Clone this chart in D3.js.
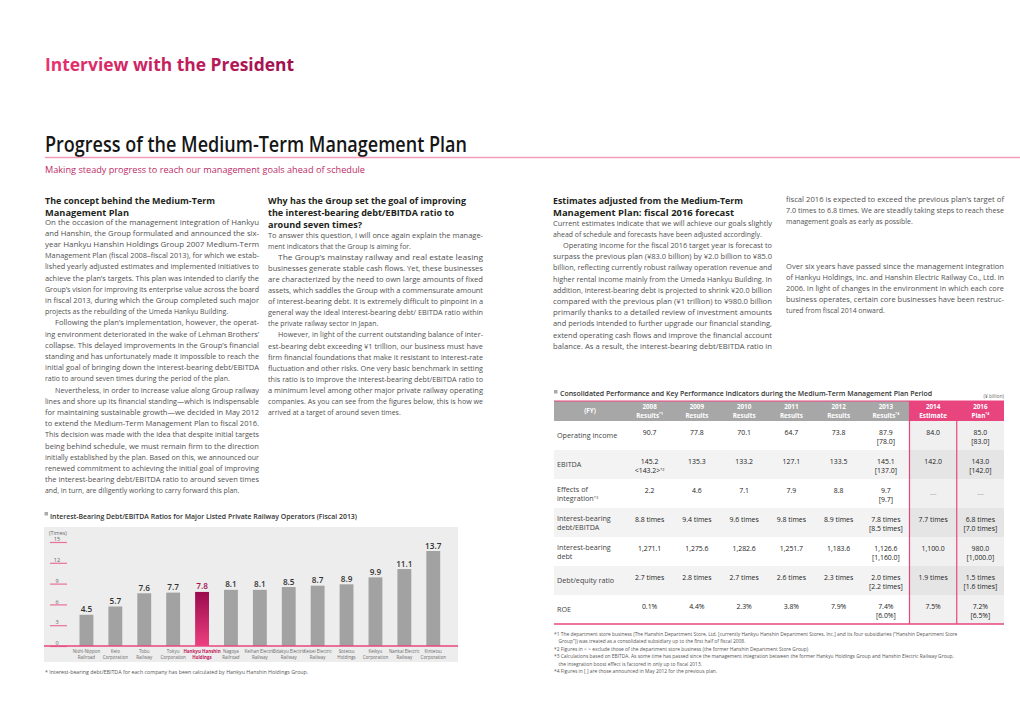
<!DOCTYPE html>
<html><head><meta charset="utf-8">
<script src="https://cdn.jsdelivr.net/npm/d3@7"></script>
<style>html,body{margin:0;padding:0;background:#fff;}svg{display:block;font-family:"Open Sans","Noto Sans",sans-serif;}</style>
</head><body>
<svg id="page" width="1020" height="721"></svg>
<script>
// ---------------- DATA ----------------
const companies = ["Nishi-Nippon Railroad","Keio Corporation","Tobu Railway","Tokyu Corporation","Hankyu Hanshin Holdings","Nagoya Railroad","Keihan Electric Railway","Odakyu Electric Railway","Keisei Electric Railway","Sotetsu Holdings","Keikyu Corporation","Nankai Electric Railway","Kintetsu Corporation"];
const companyLines = [["Nishi-Nippon","Railroad"],["Keio","Corporation"],["Tobu","Railway"],["Tokyu","Corporation"],["Hankyu Hanshin","Holdings"],["Nagoya","Railroad"],["Keihan Electric","Railway"],["Odakyu Electric","Railway"],["Keisei Electric","Railway"],["Sotetsu","Holdings"],["Keikyu","Corporation"],["Nankai Electric","Railway"],["Kintetsu","Corporation"]];
const ratios = [4.5,5.7,7.6,7.7,7.8,8.1,8.1,8.5,8.7,8.9,9.9,11.1,13.7];
const highlightCompany = "Hankyu Hanshin Holdings";
const yTicks = [0,3,6,9,12,15];

const fyYears = ["2008","2009","2010","2011","2012","2013","2014","2016"];
const fyKinds = ["Results","Results","Results","Results","Results","Results","Estimate","Plan"];
const fyNotes = ["*1","","","","","*4","","*4"];
const rowLabels = [["Operating income"],["EBITDA"],["Effects of","integration|*3"],["Interest-bearing","debt/EBITDA"],["Interest-bearing","debt"],["Debt/equity ratio"],["ROE"]];
const operatingIncome = [["90.7"],["77.8"],["70.1"],["64.7"],["73.8"],["87.9","[78.0]"],["84.0"],["85.0","[83.0]"]];
const ebitda = [["145.2","<143.2>|*2"],["135.3"],["133.2"],["127.1"],["133.5"],["145.1","[137.0]"],["142.0"],["143.0","[142.0]"]];
const integrationEffects = [["2.2"],["4.6"],["7.1"],["7.9"],["8.8"],["9.7","[9.7]"],["—"],["—"]];
const debtToEbitda = [["8.8 times"],["9.4 times"],["9.6 times"],["9.8 times"],["8.9 times"],["7.8 times","[8.5 times]"],["7.7 times"],["6.8 times","[7.0 times]"]];
const interestBearingDebt = [["1,271.1"],["1,275.6"],["1,282.6"],["1,251.7"],["1,183.6"],["1,126.6","[1,160.0]"],["1,100.0"],["980.0","[1,000.0]"]];
const debtEquity = [["2.7 times"],["2.8 times"],["2.7 times"],["2.6 times"],["2.3 times"],["2.0 times","[2.2 times]"],["1.9 times"],["1.5 times","[1.6 times]"]];
const roe = [["0.1%"],["4.4%"],["2.3%"],["3.8%"],["7.9%"],["7.4%","[6.0%]"],["7.5%"],["7.2%","[6.5%]"]];
const tableRows = [operatingIncome, ebitda, integrationEffects, debtToEbitda, interestBearingDebt, debtEquity, roe];

const tableNotes = [
 ["*1 The department store business (The Hanshin Department Store, Ltd. [currently Hankyu Hanshin Department Stores, Inc.] and its four subsidiaries (\u201cHanshin Department Store","Group\u201d)) was treated as a consolidated subsidiary up to the first half of fiscal 2008."],
 ["*2 Figures in < > exclude those of the department store business (the former Hanshin Department Store Group)"],
 ["*3 Calculations based on EBITDA. As some time has passed since the management integration between the former Hankyu Holdings Group and Hanshin Electric Railway Group,","the integration boost effect is factored in only up to fiscal 2013."],
 ["*4 Figures in [ ] are those announced in May 2012 for the previous plan."]
];

const col1Heading = ["The concept behind the Medium-Term","Management Plan"];
const col1Paras = [
 {indent:false, lines:["On the occasion of the management integration of Hankyu","and Hanshin, the Group formulated and announced the six-","year Hankyu Hanshin Holdings Group 2007 Medium-Term","Management Plan (fiscal 2008\u2013fiscal 2013), for which we estab-","lished yearly adjusted estimates and implemented initiatives to","achieve the plan\u2019s targets. This plan was intended to clarify the","Group\u2019s vision for improving its enterprise value across the board","in fiscal 2013, during which the Group completed such major","projects as the rebuilding of the Umeda Hankyu Building."]},
 {indent:true, lines:["Following the plan\u2019s implementation, however, the operat-","ing environment deteriorated in the wake of Lehman Brothers\u2019","collapse. This delayed improvements in the Group\u2019s financial","standing and has unfortunately made it impossible to reach the","initial goal of bringing down the interest-bearing debt/EBITDA","ratio to around seven times during the period of the plan."]},
 {indent:true, lines:["Nevertheless, in order to increase value along Group railway","lines and shore up its financial standing\u2014which is indispensable","for maintaining sustainable growth\u2014we decided in May 2012","to extend the Medium-Term Management Plan to fiscal 2016.","This decision was made with the idea that despite initial targets","being behind schedule, we must remain firm to the direction","initially established by the plan. Based on this, we announced our","renewed commitment to achieving the initial goal of improving","the interest-bearing debt/EBITDA ratio to around seven times","and, in turn, are diligently working to carry forward this plan."]}
];
const col2Heading = ["Why has the Group set the goal of improving","the interest-bearing debt/EBITDA ratio to","around seven times?"];
const col2Paras = [
 {indent:false, lines:["To answer this question, I will once again explain the manage-","ment indicators that the Group is aiming for."]},
 {indent:true, lines:["The Group\u2019s mainstay railway and real estate leasing","businesses generate stable cash flows. Yet, these businesses","are characterized by the need to own large amounts of fixed","assets, which saddles the Group with a commensurate amount","of interest-bearing debt. It is extremely difficult to pinpoint in a","general way the ideal interest-bearing debt/ EBITDA ratio within","the private railway sector in Japan."]},
 {indent:true, lines:["However, in light of the current outstanding balance of inter-","est-bearing debt exceeding \u00a51 trillion, our business must have","firm financial foundations that make it resistant to interest-rate","fluctuation and other risks. One very basic benchmark in setting","this ratio is to improve the interest-bearing debt/EBITDA ratio to","a minimum level among other major private railway operating","companies. As you can see from the figures below, this is how we","arrived at a target of around seven times."]}
];
const col3Heading = ["Estimates adjusted from the Medium-Term","Management Plan: fiscal 2016 forecast"];
const col3Paras = [
 {indent:false, lines:["Current estimates indicate that we will achieve our goals slightly","ahead of schedule and forecasts have been adjusted accordingly."]},
 {indent:true, cont:true, lines:["Operating income for the fiscal 2016 target year is forecast to","surpass the previous plan (\u00a583.0 billion) by \u00a52.0 billion to \u00a585.0","billion, reflecting currently robust railway operation revenue and","higher rental income mainly from the Umeda Hankyu Building. In","addition, interest-bearing debt is projected to shrink \u00a520.0 billion","compared with the previous plan (\u00a51 trillion) to \u00a5980.0 billion","primarily thanks to a detailed review of investment amounts","and periods intended to further upgrade our financial standing,","extend operating cash flows and improve the financial account","balance. As a result, the interest-bearing debt/EBITDA ratio in"]}
];
const col4ParasA = [
 {indent:false, lines:["fiscal 2016 is expected to exceed the previous plan\u2019s target of","7.0 times to 6.8 times. We are steadily taking steps to reach these","management goals as early as possible."]}
];
const col4ParasB = [
 {indent:false, lines:["Over six years have passed since the management integration","of Hankyu Holdings, Inc. and Hanshin Electric Railway Co., Ltd. in","2006. In light of changes in the environment in which each core","business operates, certain core businesses have been restruc-","tured from fiscal 2014 onward."]}
];

// ---------------- DRAW ----------------
const svg = d3.select("#page");
const PINK = "#e8457f";
const defs = svg.append("defs");
const tg = defs.append("linearGradient").attr("id","titleGrad").attr("x1","0").attr("x2","1").attr("y1","0").attr("y2","0");
tg.append("stop").attr("offset","0").attr("stop-color","#e8336f");
tg.append("stop").attr("offset","1").attr("stop-color","#9e0f4c");
const bg = defs.append("linearGradient").attr("id","barGrad").attr("x1","0").attr("x2","0").attr("y1","0").attr("y2","1");
bg.append("stop").attr("offset","0").attr("stop-color","#9a0a4d");
bg.append("stop").attr("offset","1").attr("stop-color","#ec4080");

// page header
svg.append("text").attr("x",45).attr("y",71).attr("font-size",18.5).attr("font-weight","bold")
  .attr("fill","url(#titleGrad)").attr("textLength",249).attr("lengthAdjust","spacingAndGlyphs").text("Interview with the President");
svg.append("text").attr("x",45).attr("y",152).attr("font-size",21).attr("font-weight",600).attr("fill","#161616")
  .attr("textLength",422).attr("lengthAdjust","spacingAndGlyphs").text("Progress of the Medium-Term Management Plan");
svg.append("line").attr("x1",45).attr("x2",1020).attr("y1",157.5).attr("y2",157.5).attr("stroke","#f29bbb").attr("stroke-width",1.5);
svg.append("text").attr("x",45).attr("y",173).attr("font-size",9.3).attr("fill","#bd2b66")
  .attr("textLength",320).attr("lengthAdjust","spacingAndGlyphs").text("Making steady progress to reach our management goals ahead of schedule");

function heading(lines, x, y0, widths){
  lines.forEach((l,i)=>{
    const t = svg.append("text").attr("x",x).attr("y",y0+i*12).attr("font-size",9.6).attr("font-weight","bold").attr("fill","#231f20").text(l);
    if(widths && widths[i]) t.attr("textLength",widths[i]).attr("lengthAdjust","spacingAndGlyphs");
  });
}
function body(paras, x, width, y0, step){
  let y = y0;
  paras.forEach(p=>{
    p.lines.forEach((l,i)=>{
      const ind = (i===0 && p.indent) ? 10 : 0;
      const last = (i===p.lines.length-1) && !p.cont;
      const t = svg.append("text").attr("x",x+ind).attr("y",y).attr("font-size",6.9).attr("fill","#505050").text(l);
      if(!last) t.attr("textLength",width-ind).attr("lengthAdjust","spacingAndGlyphs");
      y += step;
    });
  });
}
heading(col1Heading,45,203.5,[170,84]);
body(col1Paras,45,214,224.5,11.2);
heading(col2Heading,268,203.5,[198,186,94]);
body(col2Paras,268,215,237.5,11.1);
heading(col3Heading,553,203.5,[190,181]);
body(col3Paras,553,219,225.5,11.2);
body(col4ParasA,786,218,201.5,11);
body(col4ParasB,786,218,268.5,11);

// ---------------- BAR CHART ----------------
const chart = svg.append("g");
chart.append("rect").attr("x",44.5).attr("y",512).attr("width",3.5).attr("height",3.5).attr("fill","#aaa");
chart.append("text").attr("x",50).attr("y",518.5).attr("font-size",7.8).attr("font-weight",600).attr("fill","#333")
  .attr("textLength",307).attr("lengthAdjust","spacingAndGlyphs").text("Interest-Bearing Debt/EBITDA Ratios for Major Listed Private Railway Operators (Fiscal 2013)");
chart.append("rect").attr("x",44).attr("y",527).attr("width",414).attr("height",135).attr("fill","#ededed");
const y = d3.scaleLinear().domain([0,15]).range([646,542]);
const x = d3.scaleBand().domain(companies).range([72,447.7]).paddingInner(0.52).paddingOuter(0.26);
chart.append("text").attr("x",49).attr("y",535).attr("font-size",5.3).attr("fill","#666").text("(Times)");
const yAxis = chart.append("g").attr("transform","translate(50,0)")
  .call(d3.axisRight(y).tickValues(yTicks).tickSize(17).tickFormat(d3.format("d")));
yAxis.select(".domain").remove();
yAxis.selectAll(".tick line").attr("stroke","#ea6f9c").attr("stroke-width",1.2);
yAxis.selectAll(".tick text").attr("x",7).attr("dy","-0.25em").attr("text-anchor","middle")
  .attr("font-size",5.6).attr("fill","#666").attr("font-family","'Open Sans',sans-serif");
chart.selectAll("rect.bar").data(companies).join("rect").attr("class","bar")
  .attr("x",d=>x(d)).attr("width",x.bandwidth())
  .attr("y",(d,i)=>y(ratios[i])).attr("height",(d,i)=>y(0)-y(ratios[i]))
  .attr("fill",d=>d===highlightCompany?"url(#barGrad)":"#a2a2a2");
chart.append("line").attr("x1",44).attr("x2",458).attr("y1",y(0)).attr("y2",y(0)).attr("stroke",PINK).attr("stroke-width",1.5);
chart.selectAll("text.val").data(companies).join("text").attr("class","val")
  .attr("x",d=>x(d)+x.bandwidth()/2).attr("y",(d,i)=>y(ratios[i])-2.5).attr("text-anchor","middle")
  .attr("font-size",8.2).attr("font-weight",600).attr("fill",d=>d===highlightCompany?"#a3124f":"#333")
  .text((d,i)=>d3.format(".1f")(ratios[i]));
companies.forEach((c,i)=>{
  const hl = c===highlightCompany;
  companyLines[i].forEach((l,j)=>{
    chart.append("text").attr("x",x(c)+x.bandwidth()/2).attr("y",652.5+j*6.3).attr("text-anchor","middle")
      .attr("font-size",4.5).attr("font-weight",hl?"bold":"normal").attr("fill",hl?"#c2185b":"#6a6a6a").text(l);
  });
});
svg.append("text").attr("x",45).attr("y",674).attr("font-size",5.3).attr("fill","#555")
  .text("* Interest-bearing debt/EBITDA for each company has been calculated by Hankyu Hanshin Holdings Group.");

// ---------------- TABLE ----------------
const tbl = svg.append("g");
const tL = 554, tR = 1004, labelW = 72;
const colX = d3.scaleBand().domain(fyYears).range([tL+labelW, tR]);
const rowY = d3.scaleBand().domain(d3.range(tableRows.length)).range([421,624]);
const pinkStart = colX("2014");
tbl.append("rect").attr("x",tL).attr("y",390).attr("width",3.5).attr("height",3.5).attr("fill","#aaa");
tbl.append("text").attr("x",560).attr("y",396).attr("font-size",7.5).attr("font-weight",600).attr("fill","#333")
  .attr("textLength",372).attr("lengthAdjust","spacingAndGlyphs").text("Consolidated Performance and Key Performance Indicators during the Medium-Term Management Plan Period");
tbl.append("text").attr("x",tR).attr("y",397.5).attr("text-anchor","end").attr("font-size",4.8).attr("fill","#666").text("(\u00a5 billion)");
// header
tbl.append("rect").attr("x",tL).attr("y",401).attr("width",pinkStart-tL).attr("height",20).attr("fill","#a7a7a7");
tbl.append("rect").attr("x",pinkStart).attr("y",401).attr("width",tR-pinkStart).attr("height",20).attr("fill",PINK);
tbl.append("line").attr("x1",tL).attr("x2",tR).attr("y1",401).attr("y2",401).attr("stroke",PINK).attr("stroke-width",1);
tbl.append("text").attr("x",tL+labelW/2).attr("y",413).attr("text-anchor","middle").attr("font-size",6.3).attr("font-weight","bold").attr("fill","#fff").text("(FY)");
fyYears.forEach((yr,i)=>{
  const cx = colX(yr)+colX.bandwidth()/2;
  tbl.append("text").attr("x",cx).attr("y",409).attr("text-anchor","middle").attr("font-size",6.3).attr("font-weight","bold").attr("fill","#fff").text(yr);
  const t = tbl.append("text").attr("x",cx).attr("y",417.5).attr("text-anchor","middle").attr("font-size",6.3).attr("font-weight","bold").attr("fill","#fff");
  t.append("tspan").text(fyKinds[i]);
  if(fyNotes[i]) t.append("tspan").attr("font-size",3.6).attr("dy",-2.2).text(fyNotes[i]);
});
// rows
function richText(sel, str, size){
  const parts = str.split("|");
  sel.append("tspan").text(parts[0]);
  if(parts[1]) sel.append("tspan").attr("font-size",size*0.55).attr("dy",-2.5).text(parts[1]);
}
tableRows.forEach((row,r)=>{
  const top = rowY(r), h = rowY.bandwidth();
  tbl.append("rect").attr("x",tL).attr("y",top).attr("width",pinkStart-tL).attr("height",h).attr("fill",r%2?"#f3f3f3":"#ffffff");
  tbl.append("rect").attr("x",pinkStart).attr("y",top).attr("width",tR-pinkStart).attr("height",h).attr("fill",r%2?"#e5e5e5":"#f0f0f0");
  const lab = rowLabels[r];
  lab.forEach((l,j)=>{
    const yy = lab.length===1 ? top+17 : top+12.5+j*9.5;
    const t = tbl.append("text").attr("x",tL+3).attr("y",yy).attr("font-size",7.2).attr("fill","#444");
    richText(t,l,7.2);
  });
  row.forEach((cell,c)=>{
    const cx = colX(fyYears[c])+colX.bandwidth()/2;
    cell.forEach((v,j)=>{
      const isDash = v==="—";
      const t = tbl.append("text").attr("x",cx).attr("y",isDash?top+17:top+13.5+j*9.5).attr("text-anchor","middle")
        .attr("font-size",6.9).attr("fill",isDash?"#b0b0b0":"#222");
      richText(t,v,6.9);
    });
  });
});
tbl.append("line").attr("x1",pinkStart).attr("x2",pinkStart).attr("y1",401).attr("y2",624).attr("stroke",PINK).attr("stroke-width",1.2);
tbl.append("line").attr("x1",colX("2016")).attr("x2",colX("2016")).attr("y1",421).attr("y2",624).attr("stroke",PINK).attr("stroke-width",1.2);
tbl.append("line").attr("x1",tL).attr("x2",tR).attr("y1",624).attr("y2",624).attr("stroke",PINK).attr("stroke-width",1.5);
// notes
let ny = 635.5;
tableNotes.forEach(n=>{
  n.forEach((l,j)=>{
    tbl.append("text").attr("x",tL+(j?4.5:0)).attr("y",ny).attr("font-size",4.9).attr("fill","#555").text(l);
    ny += 7.5;
  });
});
</script>
</body></html>
